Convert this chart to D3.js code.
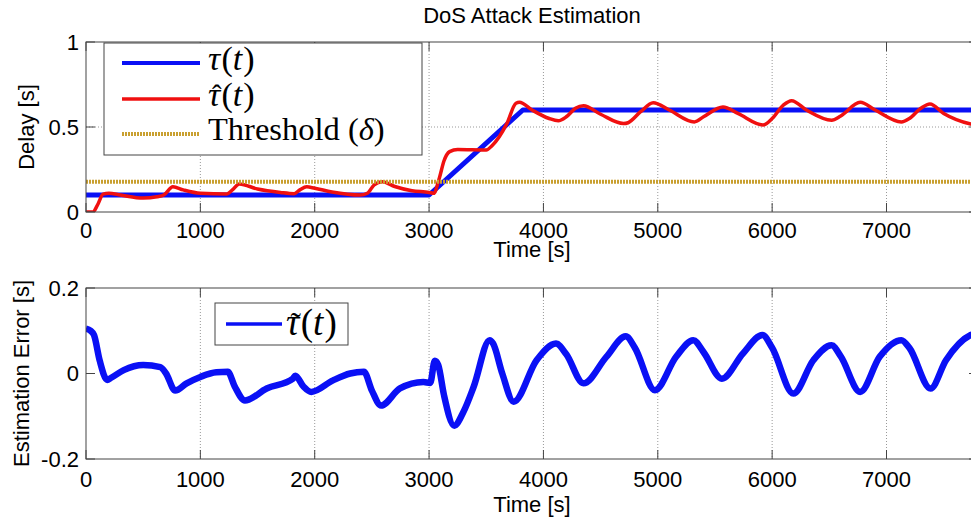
<!DOCTYPE html>
<html>
<head>
<meta charset="utf-8">
<script src="https://cdn.jsdelivr.net/npm/d3@7"></script>
<style>
  html, body { margin: 0; padding: 0; background: #fff; }
  svg { display: block; }
  text { font-family: "Liberation Sans", Arial, Helvetica, sans-serif; fill: #000; }
  .serif { font-family: "Liberation Serif", "Times New Roman", serif; }
</style>
</head>
<body>
<svg id="chart" width="971" height="521"></svg>
<script>
// ---------------- DATA ----------------
const title = "DoS Attack Estimation";
const xLabel = "Time [s]";
const yLabelTop = "Delay [s]";
const yLabelBottom = "Estimation Error [s]";
const xDomain = [0, 7800];
const xTicks = [0, 1000, 2000, 3000, 4000, 5000, 6000, 7000];
const yTicksTop = [0, 0.5, 1];
const yTickLabelsTop = ["0", "0.5", "1"];
const yTicksBottom = [-0.2, 0, 0.2];
const yTickLabelsBottom = ["-0.2", "0", "0.2"];

// true delay tau(t)
const tauTime  = [0, 3000, 3820, 7800];
const tauValue = [0.1, 0.1, 0.6, 0.6];

// estimated delay tau_hat(t)
const hatTime = [0, 60, 100, 150, 200, 300, 500, 620, 680, 760, 850, 1000, 1230, 1280, 1340, 1500, 1700, 1820, 1870, 1930, 2000, 2150, 2400, 2460, 2520, 2590, 2700, 2850, 3000, 3040, 3090, 3130, 3180, 3250, 3500, 3550, 3680, 3760, 3790, 3900, 4050, 4130, 4200, 4280, 4350, 4500, 4700, 4740, 4850, 4960, 5100, 5320, 5400, 5570, 5700, 5920, 6000, 6100, 6170, 6300, 6520, 6600, 6770, 6900, 7130, 7200, 7300, 7380, 7500, 7736, 7800];
const hatValue = [0, 0, 0.04, 0.105, 0.11, 0.1, 0.082, 0.09, 0.1, 0.148, 0.13, 0.11, 0.106, 0.13, 0.165, 0.135, 0.115, 0.108, 0.13, 0.148, 0.14, 0.118, 0.1, 0.11, 0.16, 0.178, 0.15, 0.125, 0.115, 0.11, 0.2, 0.3, 0.355, 0.368, 0.365, 0.39, 0.52, 0.64, 0.645, 0.6, 0.55, 0.537, 0.56, 0.61, 0.625, 0.575, 0.52, 0.525, 0.59, 0.643, 0.6, 0.53, 0.56, 0.618, 0.58, 0.512, 0.55, 0.63, 0.655, 0.6, 0.54, 0.565, 0.645, 0.6, 0.53, 0.55, 0.61, 0.636, 0.58, 0.518, 0.51];

// detection threshold delta
const thresholdValue = 0.178;

// estimation error tau_tilde(t)
const errTime = [0, 40, 70, 120, 185, 220, 330, 500, 650, 700, 780, 880, 1000, 1140, 1240, 1300, 1390, 1580, 1810, 1830, 1900, 1970, 2160, 2310, 2430, 2500, 2580, 2745, 2950, 3010, 3050, 3080, 3130, 3220, 3300, 3390, 3530, 3560, 3640, 3740, 3940, 4110, 4200, 4350, 4550, 4720, 4800, 4975, 5160, 5310, 5400, 5560, 5745, 5915, 6000, 6185, 6360, 6520, 6600, 6770, 6940, 7130, 7200, 7385, 7520, 7736, 7800];
const errValue = [0.105, 0.1, 0.09, 0.03, -0.015, -0.01, 0.008, 0.02, 0.015, 0.0, -0.04, -0.023, -0.008, 0.003, 0.004, -0.03, -0.063, -0.035, -0.012, -0.005, -0.03, -0.043, -0.016, 0.0, 0.004, -0.04, -0.075, -0.035, -0.02, -0.022, 0.03, 0.02, -0.05, -0.122, -0.09, -0.031, 0.078, 0.07, 0.0, -0.066, 0.031, 0.07, 0.045, -0.023, 0.039, 0.087, 0.06, -0.039, 0.039, 0.078, 0.05, -0.012, 0.047, 0.09, 0.06, -0.047, 0.031, 0.066, 0.04, -0.043, 0.039, 0.078, 0.06, -0.035, 0.031, 0.09, 0.095];

// ---------------- DRAW ----------------
const svg = d3.select("#chart");
svg.append("rect").attr("width", 971).attr("height", 521).attr("fill", "#fff");

const L = 86, R = 978;
const x = d3.scaleLinear().domain(xDomain).range([L, R]);
const yTop = d3.scaleLinear().domain([0, 1]).range([212, 42]);
const yBot = d3.scaleLinear().domain([-0.2, 0.2]).range([459, 288]);

const FS = 22;
const axisColor = "#444";
const gridColor = "#999";
const tickLen = 9;
const blue = "#0a10f5", red = "#f01010", gold = "#c9a030";

function zip(a, b) { return a.map((d, i) => [d, b[i]]); }

function panel(id, y, yTicks, yTickLabels, yGrid, yLabel, yLabelX, xLabelY, tickLabelY) {
  const top = y.range()[1], bottom = y.range()[0];
  const g = svg.append("g");
  svg.append("clipPath").attr("id", id).append("rect")
    .attr("x", L).attr("y", top).attr("width", R - L).attr("height", bottom - top);

  g.selectAll(".gx").data(xTicks.filter(d => d > xDomain[0])).enter().append("line")
    .attr("x1", d => x(d)).attr("x2", d => x(d)).attr("y1", top).attr("y2", bottom)
    .attr("stroke", gridColor).attr("stroke-width", 1).attr("stroke-dasharray", "1,2");
  g.selectAll(".gy").data(yGrid).enter().append("line")
    .attr("x1", L).attr("x2", R).attr("y1", d => y(d)).attr("y2", d => y(d))
    .attr("stroke", gridColor).attr("stroke-width", 1).attr("stroke-dasharray", "1,2");

  const plot = svg.append("g").attr("clip-path", `url(#${id})`);

  const ax = svg.append("g");
  ax.append("rect").attr("x", L).attr("y", top).attr("width", R - L).attr("height", bottom - top)
    .attr("fill", "none").attr("stroke", axisColor).attr("stroke-width", 1);
  xTicks.forEach(t => {
    ax.append("line").attr("x1", x(t)).attr("x2", x(t)).attr("y1", bottom).attr("y2", bottom - tickLen)
      .attr("stroke", axisColor);
    ax.append("line").attr("x1", x(t)).attr("x2", x(t)).attr("y1", top).attr("y2", top + tickLen)
      .attr("stroke", axisColor);
    ax.append("text").attr("x", x(t)).attr("y", tickLabelY).attr("text-anchor", "middle")
      .attr("font-size", FS).text(String(t));
  });
  yTicks.forEach((t, i) => {
    ax.append("line").attr("x1", L).attr("x2", L + tickLen).attr("y1", y(t)).attr("y2", y(t))
      .attr("stroke", axisColor);
    ax.append("line").attr("x1", R).attr("x2", R - tickLen).attr("y1", y(t)).attr("y2", y(t))
      .attr("stroke", axisColor);
    ax.append("text").attr("x", L - 7).attr("y", y(t)).attr("dy", "0.36em").attr("text-anchor", "end")
      .attr("font-size", FS).text(yTickLabels[i]);
  });
  ax.append("text").attr("x", (L + R) / 2).attr("y", xLabelY).attr("text-anchor", "middle")
    .attr("font-size", FS).text(xLabel);
  ax.append("text").attr("transform", `translate(${yLabelX},${(top + bottom) / 2}) rotate(-90)`)
    .attr("text-anchor", "middle").attr("font-size", FS).text(yLabel);
  return { plot, ax };
}

svg.append("text").attr("x", (L + R) / 2).attr("y", 23).attr("text-anchor", "middle")
  .attr("font-size", FS).text(title);

// ---- top panel
const P1 = panel("clipTop", yTop, yTicksTop, yTickLabelsTop, [0.5], yLabelTop, 34, 257, 238);
const line = (yS) => d3.line().x(d => x(d[0])).y(d => yS(d[1]));
const smooth = (yS) => d3.line().x(d => x(d[0])).y(d => yS(d[1])).curve(d3.curveMonotoneX);

P1.plot.append("path").datum(zip(tauTime, tauValue)).attr("d", line(yTop))
  .attr("fill", "none").attr("stroke", blue).attr("stroke-width", 5).attr("stroke-linejoin", "round");
P1.plot.append("path").datum(zip(hatTime, hatValue)).attr("d", smooth(yTop))
  .attr("fill", "none").attr("stroke", red).attr("stroke-width", 3.5).attr("stroke-linejoin", "round");
P1.plot.append("line").attr("x1", x(xDomain[0])).attr("x2", x(xDomain[1]))
  .attr("y1", yTop(thresholdValue)).attr("y2", yTop(thresholdValue))
  .attr("stroke", gold).attr("stroke-width", 4).attr("stroke-dasharray", "2,1");

// legend top
const lg = svg.append("g");
lg.append("rect").attr("x", 104).attr("y", 43).attr("width", 318).attr("height", 112)
  .attr("fill", "#fff").attr("stroke", axisColor).attr("stroke-width", 1);
const legY = [63, 99, 134];
lg.append("line").attr("x1", 122).attr("x2", 200).attr("y1", legY[0]).attr("y2", legY[0])
  .attr("stroke", blue).attr("stroke-width", 4);
lg.append("line").attr("x1", 122).attr("x2", 200).attr("y1", legY[1]).attr("y2", legY[1])
  .attr("stroke", red).attr("stroke-width", 3.5);
lg.append("line").attr("x1", 122).attr("x2", 200).attr("y1", legY[2]).attr("y2", legY[2])
  .attr("stroke", gold).attr("stroke-width", 4).attr("stroke-dasharray", "2,1");

function mathLabel(g, xPos, yPos, fs, accent) {
  const t = g.append("text").attr("class", "serif").attr("x", xPos).attr("y", yPos).attr("font-size", fs);
  t.append("tspan").attr("font-style", "italic").text("τ");
  t.append("tspan").attr("dx", fs * 0.04).text("(");
  t.append("tspan").attr("font-style", "italic").text("t");
  t.append("tspan").attr("dx", fs * 0.03).text(")");
  if (accent) {
    g.append("text").attr("class", "serif").attr("x", xPos + fs * 0.26).attr("y", yPos - fs * 0.04)
      .attr("text-anchor", "middle").attr("font-size", fs * 0.85).text(accent);
  }
}
mathLabel(lg, 208, legY[0] + 7, 34, null);
mathLabel(lg, 208, legY[1] + 7, 34, "ˆ");
const thr = lg.append("text").attr("class", "serif").attr("x", 208).attr("y", legY[2] + 6).attr("font-size", 32.5);
thr.append("tspan").text("Threshold (");
thr.append("tspan").attr("font-style", "italic").text("δ");
thr.append("tspan").text(")");

// ---- bottom panel
const P2 = panel("clipBot", yBot, yTicksBottom, yTickLabelsBottom, [], yLabelBottom, 29, 512, 487);
P2.plot.append("path").datum(zip(errTime, errValue)).attr("d", smooth(yBot))
  .attr("fill", "none").attr("stroke", blue).attr("stroke-width", 6.5).attr("stroke-linejoin", "round");

// legend bottom
const lg2 = svg.append("g");
lg2.append("rect").attr("x", 215).attr("y", 303).attr("width", 133).attr("height", 42)
  .attr("fill", "#fff").attr("stroke", axisColor).attr("stroke-width", 1);
lg2.append("line").attr("x1", 226).attr("x2", 282).attr("y1", 324).attr("y2", 324)
  .attr("stroke", blue).attr("stroke-width", 3.5);
mathLabel(lg2, 286, 335, 37, "˜");
</script>
</body>
</html>
